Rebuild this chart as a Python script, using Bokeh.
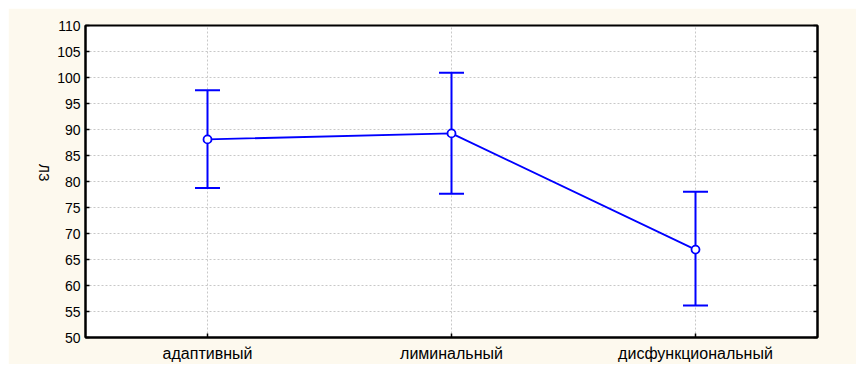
from bokeh.plotting import figure
from bokeh.models import (FactorRange, Range1d, Whisker, ColumnDataSource, LinearAxis,
                          FixedTicker)
from bokeh.embed import file_html
from bokeh.resources import INLINE
import math

categories = ["адаптивный", "лиминальный", "дисфункциональный"]
means = [88.1, 89.25, 66.9]
upper = [97.55, 100.9, 78.05]
lower = [78.75, 77.65, 56.15]
y_ticks = list(range(50, 111, 5))
y_label = "ЛЗ"

FONT = "Liberation Sans"
BG = "#FDF9EE"
BLUE = "#0000FF"

src = ColumnDataSource(dict(x=categories, m=means, u=upper, l=lower))

p = figure(x_range=FactorRange(*categories, range_padding=0), y_range=Range1d(50, 110),
           width=848, height=356, output_backend="svg", toolbar_location=None,
           min_border_left=77, min_border_right=39, min_border_top=17, min_border_bottom=26)
p.margin = (8, 0, 0, 8)
p.background_fill_color = "white"
p.border_fill_color = BG
p.outline_line_color = "black"
p.outline_line_width = 2

p.xgrid.grid_line_color = "#C8C8C8"
p.xgrid.grid_line_dash = "2 2"
p.ygrid.grid_line_color = "#C8C8C8"
p.ygrid.grid_line_dash = "2 2"

p.yaxis.ticker = FixedTicker(ticks=y_ticks)
for ax in [p.xaxis[0], p.yaxis[0]]:
    ax.axis_line_color = "black"
    ax.axis_line_width = 2
    ax.major_tick_in = 4
    ax.major_tick_out = 0
    ax.major_tick_line_color = "black"
    ax.major_tick_line_width = 1.5
    ax.minor_tick_line_color = None
    ax.major_label_text_font = FONT
    ax.major_label_text_color = "black"
p.yaxis.major_label_text_font_size = "14px"
p.xaxis.major_label_text_font_size = "16px"
p.yaxis.major_label_standoff = 5
p.xaxis.major_label_standoff = 7

p.yaxis.axis_label = y_label
p.yaxis.axis_label_text_font = FONT
p.yaxis.axis_label_text_font_size = "14px"
p.yaxis.axis_label_text_font_style = "normal"
p.yaxis.axis_label_text_color = "black"
p.yaxis.axis_label_standoff = 10
p.yaxis.axis_label_orientation = -math.pi / 2

ra = LinearAxis(ticker=FixedTicker(ticks=y_ticks),
                major_label_overrides={t: "" for t in y_ticks},
                major_tick_in=4, major_tick_out=0, minor_tick_line_color=None,
                axis_line_width=2, major_tick_line_width=1.5, major_label_standoff=0)
p.add_layout(ra, "right")

w = Whisker(base="x", upper="u", lower="l", source=src, dimension="height",
            line_color=BLUE, line_width=2)
w.upper_head.size = 25
w.lower_head.size = 25
w.upper_head.line_color = BLUE
w.lower_head.line_color = BLUE
w.upper_head.line_width = 2
w.lower_head.line_width = 2
p.add_layout(w)

p.line("x", "m", source=src, line_color=BLUE, line_width=1.8)
p.scatter("x", "m", source=src, size=8, fill_color="white", line_color=BLUE, line_width=1.8)

open("out.html", "w").write(file_html(p, INLINE))
